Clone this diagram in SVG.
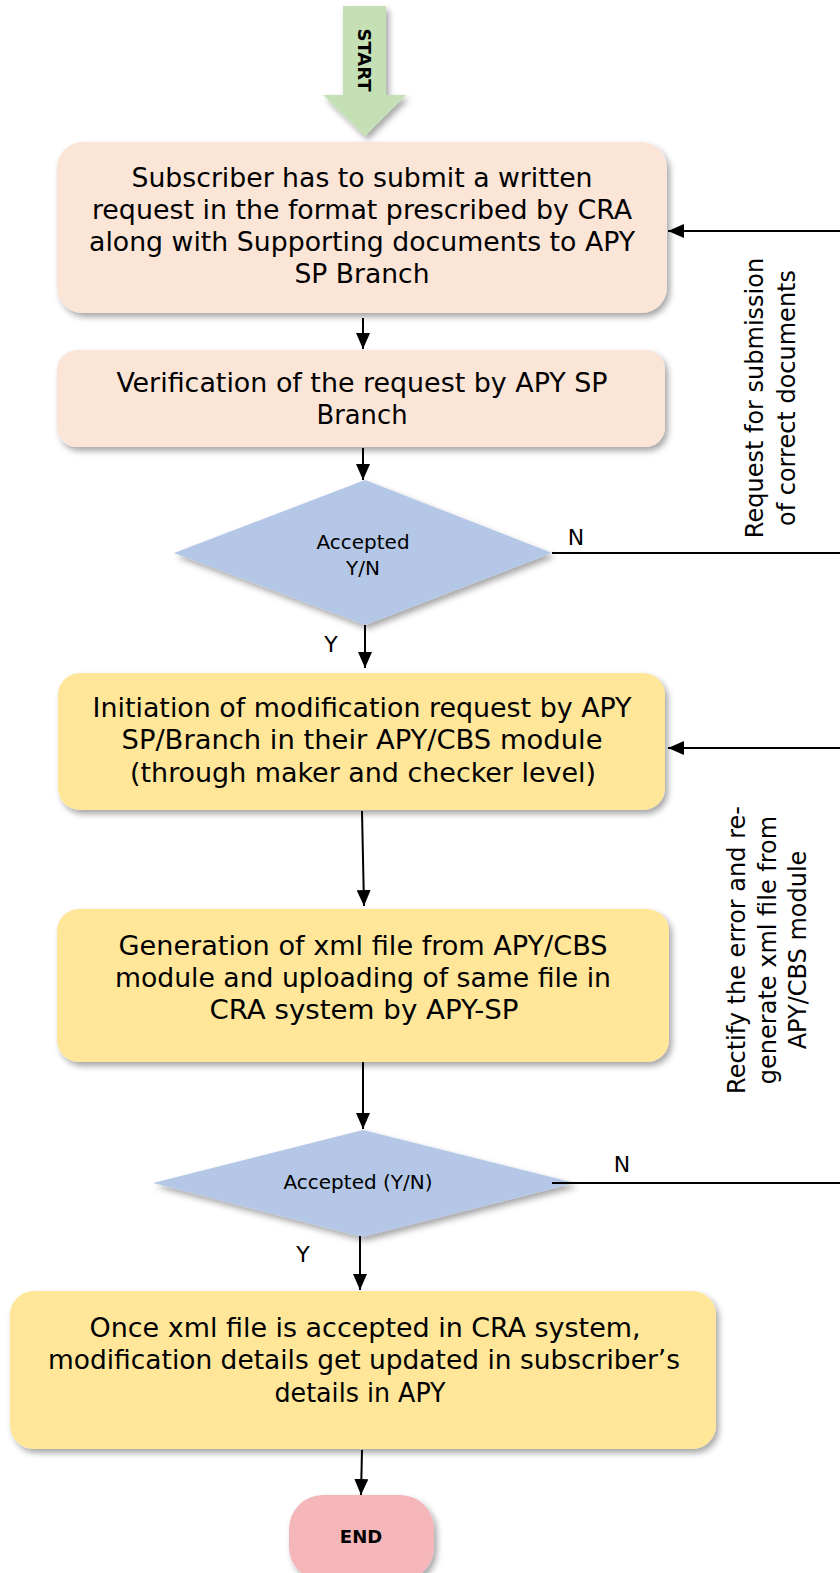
<svg xmlns="http://www.w3.org/2000/svg" width="840" height="1573" viewBox="0 0 840 1573">
<defs>
<filter id="sh" x="-10%" y="-10%" width="125%" height="130%">
<feDropShadow dx="3" dy="4" stdDeviation="3" flood-color="#000" flood-opacity="0.35"/>
</filter>
<marker id="ah" markerUnits="userSpaceOnUse" markerWidth="16" markerHeight="14" viewBox="0 0 16 14" refX="16" refY="7" orient="auto">
<path d="M0,0 L16,7 L0,14 Z" fill="#000"/>
</marker>
<style>
.bt{font-family:"DejaVu Sans Condensed","DejaVu Sans","Liberation Sans",sans-serif;font-size:26px;fill:#000;text-anchor:middle}
.lt{font-family:"DejaVu Sans","Liberation Sans",sans-serif;font-size:20px;fill:#000;text-anchor:middle}
.yn{font-family:"DejaVu Sans","Liberation Sans",sans-serif;font-size:22px;fill:#000;text-anchor:middle}
.st{font-family:"DejaVu Sans","Liberation Sans",sans-serif;font-size:24px;fill:#000;text-anchor:middle}
.bd{font-family:"DejaVu Sans","Liberation Sans",sans-serif;font-weight:bold;font-size:18px;fill:#000;text-anchor:middle}
.peach{fill:#FBE5D6;filter:url(#sh)}
.yel{fill:#FFE699;filter:url(#sh)}
.dia{fill:#B4C7E7;filter:url(#sh)}
.ln{stroke:#000;stroke-width:2;fill:none}
.ar{stroke:#000;stroke-width:2;fill:none;marker-end:url(#ah)}
</style>
</defs>

<g id="start">
<path d="M343,6 L386,6 L386,95 L406,95 L365,136 L323,95 L343,95 Z" fill="#C5E0B4" filter="url(#sh)"/>
<text class="bd" transform="translate(358,60) rotate(90)" x="0" y="0">START</text>
</g>

<g id="box1">
<rect class="peach" x="57" y="142" width="610" height="171" rx="26"/>
<text class="bt" x="362" y="187" textLength="461" lengthAdjust="spacingAndGlyphs">Subscriber has to submit a written</text>
<text class="bt" x="362" y="219" textLength="540" lengthAdjust="spacingAndGlyphs">request in the format prescribed by CRA</text>
<text class="bt" x="362" y="251" textLength="546" lengthAdjust="spacingAndGlyphs">along with Supporting documents to APY</text>
<text class="bt" x="362" y="283" textLength="135" lengthAdjust="spacingAndGlyphs">SP Branch</text>
</g>

<g id="box2">
<rect class="peach" x="57" y="350" width="608" height="97" rx="20"/>
<text class="bt" x="362" y="392" textLength="491" lengthAdjust="spacingAndGlyphs">Verification of the request by APY SP</text>
<text class="bt" x="362" y="424" textLength="91" lengthAdjust="spacingAndGlyphs">Branch</text>
</g>

<g id="decision1">
<polygon class="dia" points="365,480 552,553 365,625 174,553"/>
<text class="lt" x="363" y="549">Accepted</text>
<text class="lt" x="363" y="575">Y/N</text>
</g>

<g id="box3">
<rect class="yel" x="58" y="673" width="607" height="137" rx="22"/>
<text class="bt" x="362" y="717" textLength="539" lengthAdjust="spacingAndGlyphs">Initiation of modification request by APY</text>
<text class="bt" x="362" y="749" textLength="481" lengthAdjust="spacingAndGlyphs">SP/Branch in their APY/CBS module</text>
<text class="bt" x="363" y="782" textLength="466" lengthAdjust="spacingAndGlyphs">(through maker and checker level)</text>
</g>

<g id="box4">
<rect class="yel" x="57" y="909" width="612" height="153" rx="22"/>
<text class="bt" x="363" y="955" textLength="489" lengthAdjust="spacingAndGlyphs">Generation of xml file from APY/CBS</text>
<text class="bt" x="363" y="987" textLength="496" lengthAdjust="spacingAndGlyphs">module and uploading of same file in</text>
<text class="bt" x="364" y="1019" textLength="309" lengthAdjust="spacingAndGlyphs">CRA system by APY-SP</text>
</g>

<g id="decision2">
<polygon class="dia" points="363,1130 575,1183 362,1237 153,1183"/>
<text class="lt" x="358" y="1189" font-size="21">Accepted (Y/N)</text>
</g>

<g id="box5">
<rect class="yel" x="10" y="1291" width="706" height="158" rx="24"/>
<text class="bt" x="365" y="1337" textLength="551" lengthAdjust="spacingAndGlyphs">Once xml file is accepted in CRA system,</text>
<text class="bt" x="364" y="1369" textLength="632" lengthAdjust="spacingAndGlyphs">modification details get updated in subscriber’s</text>
<text class="bt" x="360" y="1402" textLength="171" lengthAdjust="spacingAndGlyphs">details in APY</text>
</g>

<g id="end">
<rect x="289" y="1495" width="145" height="86" rx="34" fill="#F4B6B8" filter="url(#sh)"/>
<text class="bd" x="361" y="1543">END</text>
</g>

<g id="connectors">
<line class="ar" x1="363" y1="318" x2="363" y2="349"/>
<line class="ar" x1="363" y1="448" x2="363" y2="480"/>
<line class="ar" x1="365" y1="625" x2="365" y2="668"/>
<line class="ar" x1="362" y1="811" x2="364" y2="906"/>
<line class="ar" x1="363" y1="1062" x2="363" y2="1129"/>
<line class="ar" x1="360" y1="1236" x2="360" y2="1290"/>
<line class="ar" x1="362" y1="1450" x2="361" y2="1495"/>
<line class="ln" x1="552" y1="553" x2="840" y2="553"/>
<line class="ar" x1="840" y1="231" x2="668" y2="231"/>
<line class="ln" x1="552" y1="1183" x2="840" y2="1183"/>
<line class="ar" x1="840" y1="748" x2="668" y2="748"/>
</g>

<g id="labels">
<text class="yn" x="576" y="545">N</text>
<text class="yn" x="331" y="652">Y</text>
<text class="yn" x="622" y="1172">N</text>
<text class="yn" x="303" y="1262">Y</text>
<text class="st" transform="translate(0,398) rotate(-90)"><tspan x="0" y="763">Request for submission</tspan><tspan x="0" y="795">of correct documents</tspan></text>
<text class="st" transform="translate(0,950) rotate(-90)"><tspan x="0" y="745">Rectify the error and re-</tspan><tspan x="0" y="776">generate xml file from</tspan><tspan x="0" y="806">APY/CBS module</tspan></text>
</g>
</svg>
